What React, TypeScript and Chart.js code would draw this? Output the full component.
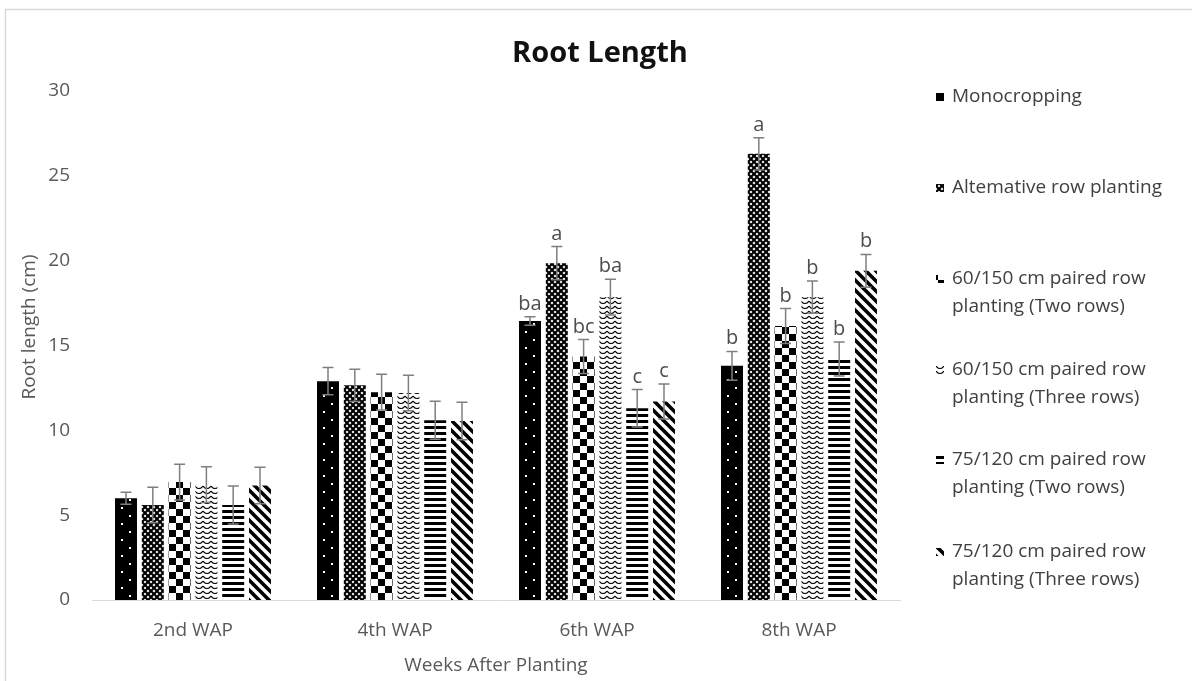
import React, { useEffect, useRef } from 'react';
import { Chart, registerables } from 'chart.js';

Chart.register(...registerables);

const categories = ['2nd WAP', '4th WAP', '6th WAP', '8th WAP'];

const monoValues = [6.0, 12.9, 16.45, 13.8];
const altValues = [5.6, 12.65, 19.85, 26.3];
const p60TwoValues = [6.95, 12.25, 14.35, 16.15];
const p60ThreeValues = [6.8, 12.2, 17.85, 17.85];
const p75TwoValues = [5.6, 10.6, 11.3, 14.2];
const p75ThreeValues = [6.75, 10.55, 11.7, 19.4];

const monoErr = [0.35, 0.8, 0.25, 0.85];
const altErr = [1.05, 0.95, 0.98, 0.95];
const p60TwoErr = [1.05, 1.05, 1.0, 1.03];
const p60ThreeErr = [1.05, 1.05, 1.05, 0.95];
const p75TwoErr = [1.12, 1.12, 1.1, 1.0];
const p75ThreeErr = [1.08, 1.1, 1.03, 0.97];

const monoLetters = ['', '', 'ba', 'b'];
const altLetters = ['', '', 'a', 'a'];
const p60TwoLetters = ['', '', 'bc', 'b'];
const p60ThreeLetters = ['', '', 'ba', 'b'];
const p75TwoLetters = ['', '', 'c', 'b'];
const p75ThreeLetters = ['', '', 'c', 'b'];

const seriesLabels = [
  ['Monocropping'],
  ['Altemative row planting'],
  ['60/150 cm paired row', 'planting (Two rows)'],
  ['60/150 cm paired row', 'planting (Three rows)'],
  ['75/120 cm paired row', 'planting (Two rows)'],
  ['75/120 cm paired row', 'planting (Three rows)'],
];

const yTicks = [0, 5, 10, 15, 20, 25, 30];

const FONT = "'Open Sans', 'DejaVu Sans', sans-serif";

function makePattern(w: number, h: number, draw: (g: CanvasRenderingContext2D) => void): CanvasPattern {
  const c = document.createElement('canvas');
  c.width = w;
  c.height = h;
  const g = c.getContext('2d') as CanvasRenderingContext2D;
  draw(g);
  return g.createPattern(c, 'repeat') as CanvasPattern;
}

const patternMakers: Array<() => CanvasPattern> = [
  () =>
    makePattern(16, 16, (g) => {
      g.fillStyle = '#000';
      g.fillRect(0, 0, 16, 16);
      g.fillStyle = '#fff';
      g.fillRect(6, 3, 2, 2);
      g.fillRect(14, 11, 2, 2);
    }),
  () =>
    makePattern(6, 6, (g) => {
      g.fillStyle = '#fff';
      g.fillRect(0, 0, 6, 6);
      g.strokeStyle = '#000';
      g.lineWidth = 2.2;
      g.beginPath();
      g.moveTo(-1, -1);
      g.lineTo(7, 7);
      g.moveTo(7, -1);
      g.lineTo(-1, 7);
      g.stroke();
    }),
  () =>
    makePattern(14, 14, (g) => {
      g.fillStyle = '#fff';
      g.fillRect(0, 0, 14, 14);
      g.fillStyle = '#000';
      g.fillRect(0, 0, 7, 7);
      g.fillRect(7, 7, 7, 7);
    }),
  () =>
    makePattern(8, 5, (g) => {
      g.fillStyle = '#fff';
      g.fillRect(0, 0, 8, 5);
      g.strokeStyle = '#000';
      g.lineWidth = 1.2;
      g.beginPath();
      g.moveTo(0, 1);
      g.quadraticCurveTo(4, 6, 8, 1);
      g.stroke();
    }),
  () =>
    makePattern(4, 6, (g) => {
      g.fillStyle = '#fff';
      g.fillRect(0, 0, 4, 6);
      g.fillStyle = '#000';
      g.fillRect(0, 0, 4, 3);
    }),
  () =>
    makePattern(10, 10, (g) => {
      g.fillStyle = '#fff';
      g.fillRect(0, 0, 10, 10);
      g.strokeStyle = '#000';
      g.lineWidth = 3.6;
      g.beginPath();
      for (const k of [-10, 0, 10]) {
        g.moveTo(k - 2, -2);
        g.lineTo(k + 12, 12);
      }
      g.stroke();
    }),
];

const legendRows = [97, 188, 279, 370, 460, 552];

export default function App() {
  const canvasRef = useRef<HTMLCanvasElement | null>(null);

  useEffect(() => {
    document.body.style.margin = '0';
    const canvas = canvasRef.current;
    if (!canvas) return;
    const values = [monoValues, altValues, p60TwoValues, p60ThreeValues, p75TwoValues, p75ThreeValues];
    const errors = [monoErr, altErr, p60TwoErr, p60ThreeErr, p75TwoErr, p75ThreeErr];
    const letters = [monoLetters, altLetters, p60TwoLetters, p60ThreeLetters, p75TwoLetters, p75ThreeLetters];
    const barPatterns = values.map((vals, i) => vals.map(() => patternMakers[i]()));
    const legendPatterns = patternMakers.map((m) => m());

    const decorPlugin = {
      id: 'decor',
      beforeDatasetsDraw(chart: any) {
        values.forEach((vals, i) => {
          const meta = chart.getDatasetMeta(i);
          meta.data.forEach((el: any, j: number) => {
            const left = Math.round(el.x - el.width / 2);
            const top = Math.round(chart.chartArea.bottom);
            const p = barPatterns[i][j];
            if (p && (p as any).setTransform) {
              p.setTransform(new DOMMatrix().translate(left, top));
            }
          });
        });
      },
      afterDatasetsDraw(chart: any) {
        const ctx = chart.ctx as CanvasRenderingContext2D;
        const yScale = chart.scales.y;
        ctx.save();
        values.forEach((vals, i) => {
          const meta = chart.getDatasetMeta(i);
          meta.data.forEach((el: any, j: number) => {
            const v = vals[j];
            const e = errors[i][j];
            const x = el.x;
            const yt = yScale.getPixelForValue(v + e);
            const yb = yScale.getPixelForValue(v - e);
            ctx.strokeStyle = '#7f7f7f';
            ctx.lineWidth = 1.5;
            ctx.beginPath();
            ctx.moveTo(x, yt);
            ctx.lineTo(x, yb);
            ctx.moveTo(x - 5.5, yt);
            ctx.lineTo(x + 5.5, yt);
            ctx.moveTo(x - 5.5, yb);
            ctx.lineTo(x + 5.5, yb);
            ctx.stroke();
            const lab = letters[i][j];
            if (lab) {
              ctx.fillStyle = '#4d4d4d';
              ctx.font = `20px ${FONT}`;
              ctx.textAlign = 'center';
              ctx.textBaseline = 'alphabetic';
              ctx.fillText(lab, x, yt - 7);
            }
          });
        });
        ctx.restore();
      },
      afterDraw(chart: any) {
        const ctx = chart.ctx as CanvasRenderingContext2D;
        const area = chart.chartArea;
        ctx.save();
        ctx.strokeStyle = '#d9d9d9';
        ctx.lineWidth = 1.5;
        ctx.strokeRect(5.5, 9.5, 1250, 720);
        ctx.fillStyle = '#111';
        ctx.font = `bold 29px ${FONT}`;
        ctx.textAlign = 'center';
        ctx.textBaseline = 'middle';
        ctx.fillText('Root Length', 600, 54);
        ctx.fillStyle = '#595959';
        ctx.font = `19px ${FONT}`;
        ctx.fillText('Weeks After Planting', (area.left + area.right) / 2, 666);
        ctx.save();
        ctx.translate(30, 327);
        ctx.rotate(-Math.PI / 2);
        ctx.fillText('Root length (cm)', 0, 0);
        ctx.restore();
        ctx.font = `19px ${FONT}`;
        ctx.textAlign = 'left';
        ctx.textBaseline = 'middle';
        seriesLabels.forEach((lines, i) => {
          const y = legendRows[i];
          ctx.fillStyle = legendPatterns[i];
          ctx.fillRect(936, y - 4, 8, 8);
          ctx.fillStyle = '#404040';
          lines.forEach((t, k) => {
            ctx.fillText(t, 952, y + k * 28);
          });
        });
        ctx.restore();
      },
    };

    const chart = new Chart(canvas, {
      type: 'bar',
      data: {
        labels: categories,
        datasets: values.map((vals, i) => ({
          label: seriesLabels[i].join(' '),
          data: vals,
          backgroundColor: barPatterns[i],
          borderWidth: 0,
          categoryPercentage: 0.796,
          barPercentage: 0.82,
        })),
      },
      options: {
        responsive: false,
        animation: false,
        layout: { padding: { top: 91, right: 292, bottom: 0, left: 0 } },
        plugins: {
          legend: { display: false },
          title: { display: false },
          tooltip: { enabled: false },
        },
        scales: {
          x: {
            grid: { display: false, drawTicks: false },
            border: { display: true, color: '#d9d9d9', width: 1 },
            ticks: { color: '#595959', font: { size: 19, family: FONT }, padding: 19 },
            afterFit: (s: any) => {
              s.height = 81;
            },
          },
          y: {
            min: 0,
            max: 30,
            afterBuildTicks: (s: any) => {
              s.ticks = yTicks.map((v) => ({ value: v }));
            },
            grid: { display: false, drawTicks: false },
            border: { display: false },
            ticks: { color: '#595959', font: { size: 19, family: FONT }, padding: 22 },
            afterFit: (s: any) => {
              s.width = 92;
            },
          },
        },
      },
      plugins: [decorPlugin],
    });
    return () => chart.destroy();
  }, []);

  return (
    <div style={{ width: 1192, height: 681, background: '#fff' }}>
      <canvas ref={canvasRef} width={1192} height={681} />
    </div>
  );
}
